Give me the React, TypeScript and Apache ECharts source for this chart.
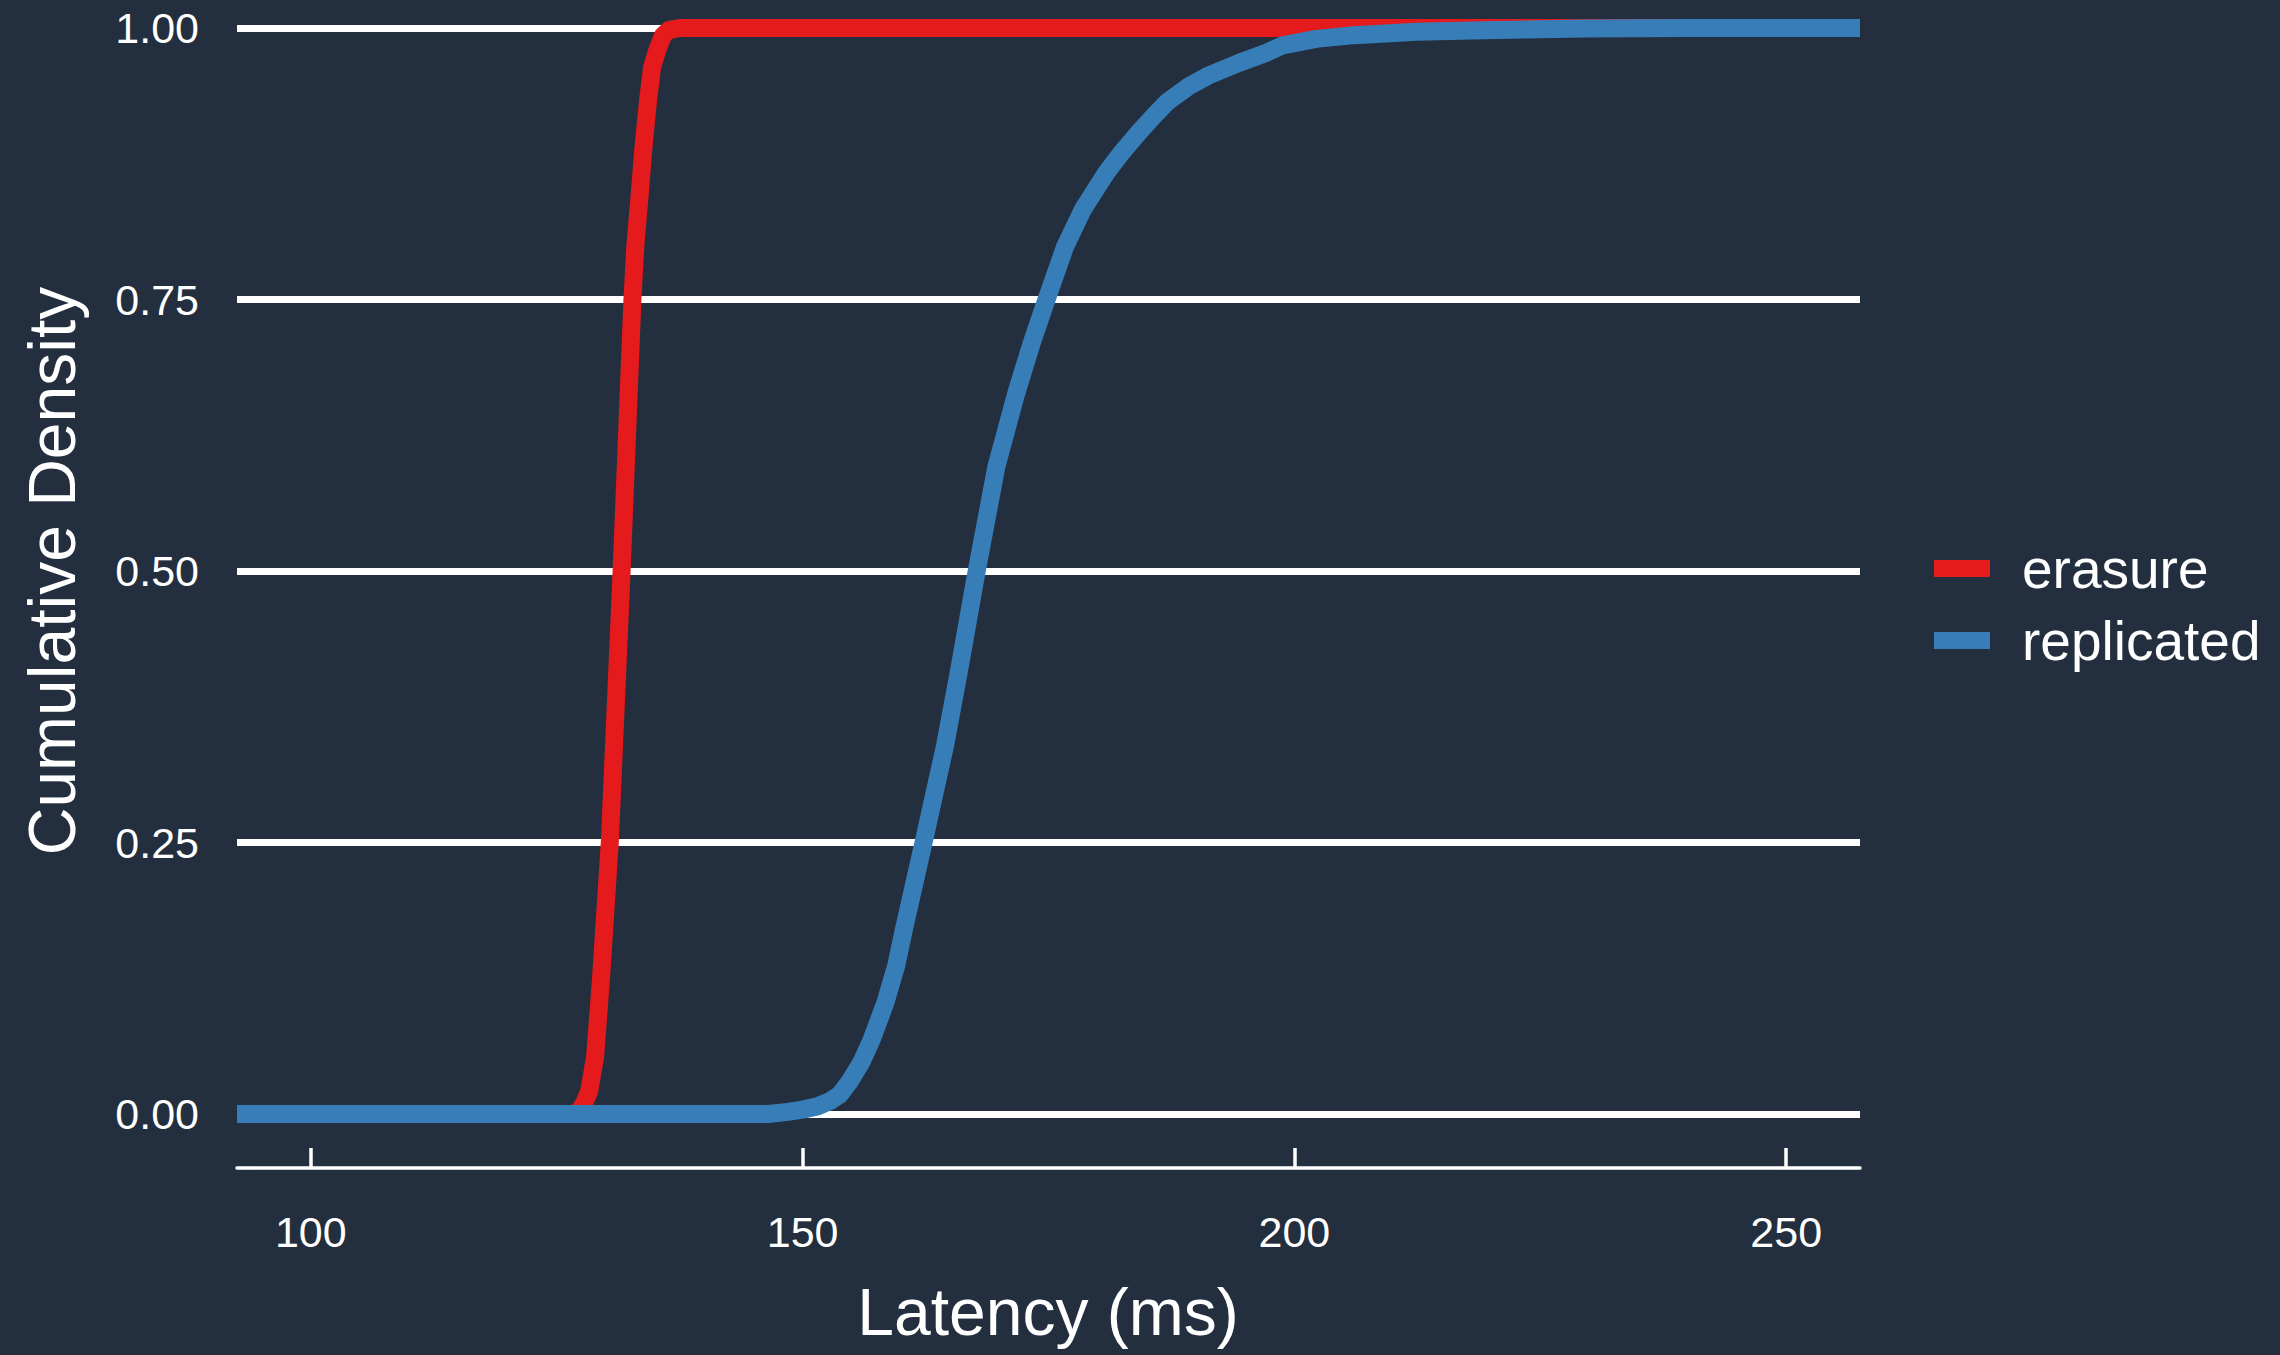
import React, { useEffect, useRef } from "react";
import * as echarts from "echarts";

const seriesNames = ["erasure", "replicated"];
const seriesColors = ["#E41A1C", "#377EB8"];

const erasureLatency = [92.5, 126.8, 127.4, 127.9, 128.3, 128.9, 129.5, 130.4, 131.6, 132.7, 133.0, 133.4, 133.8, 134.3, 134.7, 135.25, 135.8, 136.4, 137.5, 257.5];
const erasureCdf = [0, 0, 0.004, 0.012, 0.021, 0.052, 0.124, 0.25, 0.5, 0.75, 0.8, 0.842, 0.888, 0.934, 0.964, 0.98, 0.993, 0.998, 1, 1];

const replicatedLatency = [92.5, 146.5, 148.5, 150, 151.5, 152.8, 153.8, 154.8, 156, 157, 158.4, 159.5, 160.3, 162.3, 164.5, 165.9, 167.7, 169.7, 171.7, 173.3, 174.8, 176.7, 178.5, 180.9, 182.5, 184.1, 185.6, 187.1, 189.2, 191.2, 194.4, 197.1, 198.8, 202.2, 205.6, 212.4, 219.2, 229.4, 240, 257.5];
const replicatedCdf = [0, 0, 0.002, 0.004, 0.007, 0.012, 0.018, 0.03, 0.048, 0.068, 0.102, 0.136, 0.17, 0.25, 0.34, 0.408, 0.5, 0.596, 0.663, 0.71, 0.75, 0.799, 0.833, 0.867, 0.886, 0.903, 0.918, 0.932, 0.946, 0.956, 0.968, 0.977, 0.984, 0.99, 0.993, 0.9966, 0.998, 0.9995, 1, 1];

const xTicks = [100, 150, 200, 250];
const xMin = 92.5;
const xMax = 257.5;
const yMin = 0;
const yMax = 1;
const yInterval = 0.25;

const xTitle = "Latency (ms)";
const yTitle = "Cumulative Density";

const BG = "#232F3E";
const FONT = "Liberation Sans, Arial, Helvetica, sans-serif";

export default function App() {
  const ref = useRef<HTMLDivElement>(null);

  useEffect(() => {
    document.body.style.margin = "0";
    document.body.style.background = BG;
    if (!ref.current) return;
    const chart = echarts.init(ref.current, undefined, { renderer: "svg" });

    const pairs = (xs: number[], ys: number[]) => xs.map((x, i) => [x, ys[i]]);

    chart.setOption({
      animation: false,
      backgroundColor: BG,
      textStyle: { fontFamily: FONT },
      grid: { left: 237, right: 420, top: 28, bottom: 241, containLabel: false },
      xAxis: {
        type: "value",
        min: xMin,
        max: xMax,
        offset: 54,
        axisLine: { show: true, onZero: false, lineStyle: { color: "#FFFFFF", width: 3.5 } },
        axisTick: {
          show: true,
          inside: true,
          length: 20,
          customValues: xTicks,
          lineStyle: { color: "#FFFFFF", width: 3.5 },
        },
        axisLabel: {
          show: true,
          customValues: xTicks,
          color: "#FFFFFF",
          fontSize: 43,
          fontFamily: FONT,
          margin: 42,
          showMinLabel: true,
          showMaxLabel: true,
        },
        splitLine: { show: false },
      },
      yAxis: {
        type: "value",
        min: yMin,
        max: yMax,
        interval: yInterval,
        axisLine: { show: false },
        axisTick: { show: false },
        axisLabel: {
          color: "#FFFFFF",
          fontSize: 43,
          fontFamily: FONT,
          margin: 38,
          formatter: (v: number) => v.toFixed(2),
        },
        splitLine: { show: true, lineStyle: { color: "#FFFFFF", width: 7 } },
      },
      legend: {
        show: true,
        orient: "vertical",
        left: 1934,
        top: 541,
        padding: 0,
        itemWidth: 56,
        itemHeight: 17,
        itemGap: 17,
        icon: "rect",
        data: seriesNames,
        textStyle: {
          color: "#FFFFFF",
          fontSize: 55,
          lineHeight: 55,
          fontFamily: FONT,
          padding: [0, 0, 0, 27],
        },
      },
      graphic: [
        {
          type: "text",
          x: 1048,
          y: 1312,
          style: {
            text: xTitle,
            fill: "#FFFFFF",
            fontSize: 66,
            fontFamily: FONT,
            textAlign: "center",
            textVerticalAlign: "middle",
          },
        },
        {
          type: "text",
          x: 52,
          y: 571,
          rotation: Math.PI / 2,
          style: {
            text: yTitle,
            fill: "#FFFFFF",
            fontSize: 66,
            fontFamily: FONT,
            textAlign: "center",
            textVerticalAlign: "middle",
          },
        },
      ],
      series: [
        {
          name: seriesNames[0],
          type: "line",
          data: pairs(erasureLatency, erasureCdf),
          showSymbol: false,
          symbol: "none",
          clip: false,
          color: seriesColors[0],
          lineStyle: { color: seriesColors[0], width: 18, join: "round" },
          z: 3,
        },
        {
          name: seriesNames[1],
          type: "line",
          data: pairs(replicatedLatency, replicatedCdf),
          showSymbol: false,
          symbol: "none",
          clip: false,
          color: seriesColors[1],
          lineStyle: { color: seriesColors[1], width: 18, join: "round" },
          z: 4,
        },
      ],
    });

    return () => chart.dispose();
  }, []);

  return (
    <div
      ref={ref}
      style={{ position: "fixed", left: 0, top: 0, width: 2280, height: 1355, background: BG }}
    />
  );
}
